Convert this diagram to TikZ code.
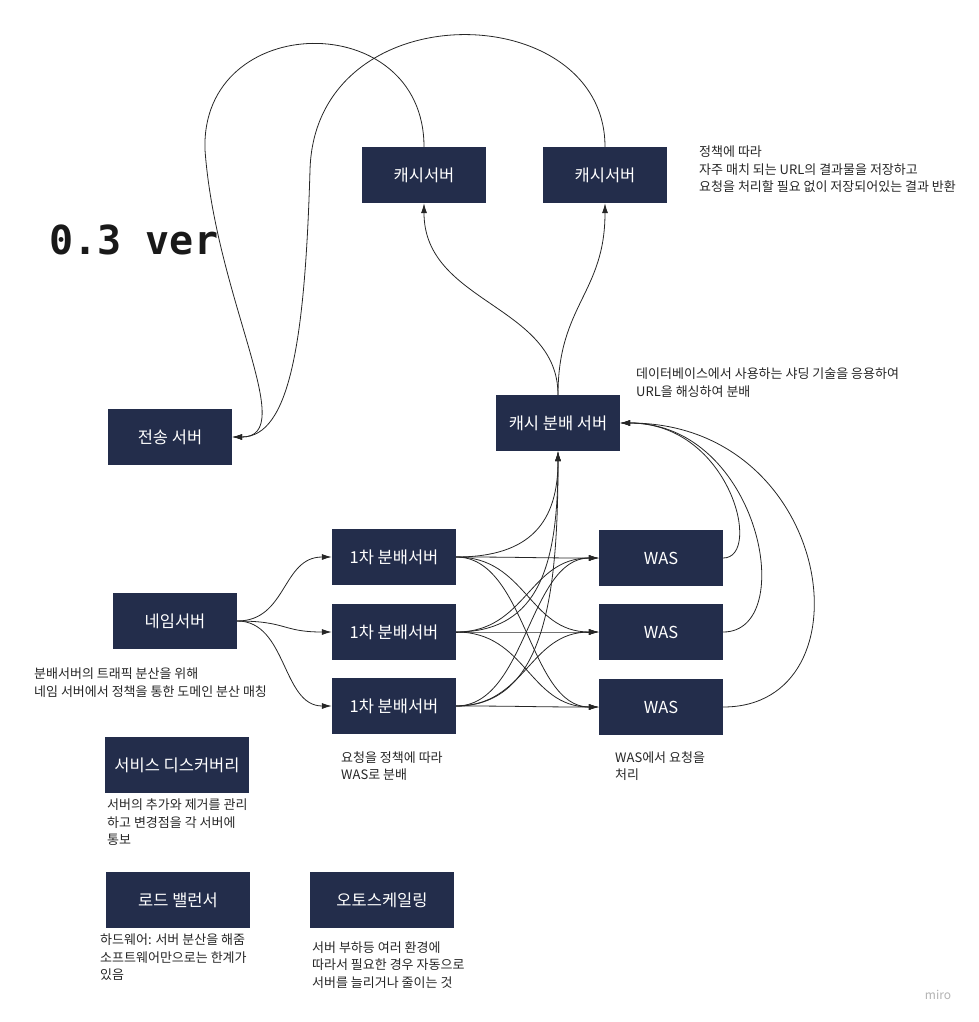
\documentclass[tikz,border=0pt]{standalone}
\usepackage{fontspec}
\setmainfont{Noto Sans CJK KR}
\newfontfamily\verfont{DejaVu Sans Mono}
\usetikzlibrary{arrows.meta}
\definecolor{navy}{HTML}{232D4B}
\tikzset{%
  >={Latex[width=6pt,length=10pt]},
  % Specifications for style of nodes:
      base/.style = {rectangle, fill=navy, text=white,
                     minimum width=124pt, minimum height=56pt,
                     text centered, font=\fontsize{16.5}{18}\selectfont},
  widebase/.style = {base, minimum width=144pt},
      note/.style = {anchor=north west, align=left, inner sep=0pt,
                     text=black!85, font=\fontsize{13}{17.5}\selectfont},
      link/.style = {->, line width=0.8pt, draw=black!85},
}
\begin{document}
\begin{tikzpicture}[x=1pt, y=-1pt]
\useasboundingbox (0,0) rectangle (978,1022);

\node (Ver) [anchor=west, text=black!90,
  font=\verfont\bfseries\fontsize{40}{44}\selectfont] at (46,240) {0.3 ver};

\node (CS1)  [base] at (424,175) {캐시서버};
\node (CS2)  [base] at (605,175) {캐시서버};
\node (TS)   [base] at (170,437) {전송 서버};
\node (CD)   [base] at (558,423) {캐시 분배 서버};

\node (P1)   [base] at (394,557) {1차 분배서버};
\node (P2)   [base] at (394,632) {1차 분배서버};
\node (P3)   [base] at (394,706) {1차 분배서버};

\node (W1)   [base] at (661,558) {WAS};
\node (W2)   [base] at (661,632) {WAS};
\node (W3)   [base] at (661,707) {WAS};

\node (NS)   [base] at (175,621) {네임서버};
\node (SD)   [widebase] at (177,765) {서비스 디스커버리};
\node (LB)   [widebase] at (178,900) {로드 밸런서};
\node (AS)   [widebase] at (382,900) {오토스케일링};

% notes
\node (CSnote) [note] at (699,146) {정책에 따라\\자주 매치 되는 URL의 결과물을 저장하고\\요청을 처리할 필요 없이 저장되어있는 결과 반환};
\node (CDnote) [note] at (636,368) {데이터베이스에서 사용하는 샤딩 기술을 응용하여\\URL을 해싱하여 분배};
\node (NSnote) [note] at (34,668) {분배서버의 트래픽 분산을 위해\\네임 서버에서 정책을 통한 도메인 분산 매칭};
\node (Pnote)  [note] at (341,751) {요청을 정책에 따라\\WAS로 분배};
\node (Wnote)  [note] at (615,751) {WAS에서 요청을\\처리};
\node (SDnote) [note] at (107,799) {서버의 추가와 제거를 관리\\하고 변경점을 각 서버에\\통보};
\node (LBnote) [note] at (100,934) {하드웨어: 서버 분산을 해줌\\소프트웨어만으로는 한계가\\있음};
\node (ASnote) [note] at (312,941) {서버 부하등 여러 환경에\\따라서 필요한 경우 자동으로\\서버를 늘리거나 줄이는 것};
\node (Miro)   [text=black!30, font=\fontsize{12}{14}\selectfont] at (938,995) {miro};

% cache servers back to the sending server
\draw[link] (CS1.north) .. controls +(0,-140) and (200,10) .. (205,150)
            .. controls (216,300) and (300,437) .. (TS.east);
\draw[link] (CS2.north) .. controls +(0,-150) and (315,-10) .. (310,170)
            .. controls (305,340) and (290,437) .. (TS.east);

% cache distributor to cache servers
\draw[link] (CD.north) .. controls +(0,-90) and +(0,100) .. (CS1.south);
\draw[link] (CD.north) .. controls +(0,-90) and +(0,90) .. (CS2.south);

% name server to first distributors
\draw[link] (NS.east) .. controls +(50,0) and +(-50,0) .. (P1.west);
\draw[link] (NS.east) .. controls +(50,0) and +(-50,0) .. (P2.west);
\draw[link] (NS.east) .. controls +(50,0) and +(-50,0) .. (P3.west);

% first distributors to WAS
\draw[link] (P1.east) .. controls +(70,0) and +(-70,0) .. (W1.west);
\draw[link] (P1.east) .. controls +(70,0) and +(-70,0) .. (W2.west);
\draw[link] (P1.east) .. controls +(70,0) and +(-70,0) .. (W3.west);
\draw[link] (P2.east) .. controls +(70,0) and +(-70,0) .. (W1.west);
\draw[link] (P2.east) .. controls +(70,0) and +(-70,0) .. (W2.west);
\draw[link] (P2.east) .. controls +(70,0) and +(-70,0) .. (W3.west);
\draw[link] (P3.east) .. controls +(70,0) and +(-70,0) .. (W1.west);
\draw[link] (P3.east) .. controls +(70,0) and +(-70,0) .. (W2.west);
\draw[link] (P3.east) .. controls +(70,0) and +(-70,0) .. (W3.west);

% first distributors to cache distributor
\draw[link] (P1.east) .. controls +(75,0) and +(0,70) .. (CD.south);
\draw[link] (P2.east) .. controls +(85,0) and +(0,110) .. (CD.south);
\draw[link] (P3.east) .. controls +(90,0) and +(0,140) .. (CD.south);

% WAS to cache distributor
\draw[link] (W1.east) .. controls +(40,0) and +(110,0) .. (CD.east);
\draw[link] (W2.east) .. controls +(76,0) and +(140,0) .. (CD.east);
\draw[link] (W3.east) .. controls +(150,0) and +(215,0) .. (CD.east);
\end{tikzpicture}
\end{document}
